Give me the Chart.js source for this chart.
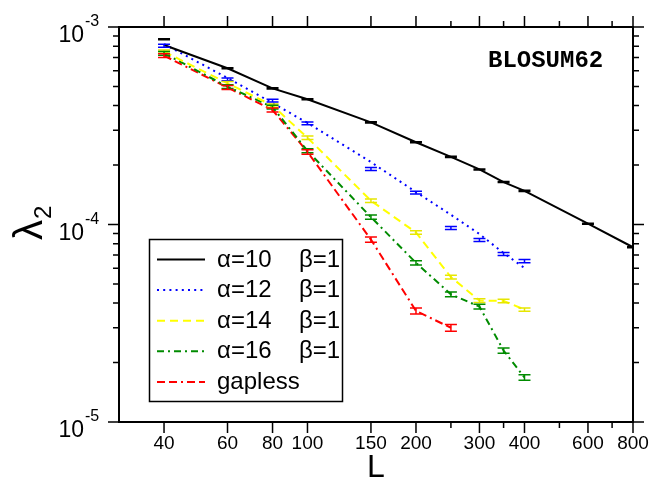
<!DOCTYPE html>
<html>
<head>
<meta charset="utf-8">
<script src="https://cdn.jsdelivr.net/npm/chart.js@4.4.0/dist/chart.umd.min.js"></script>
<style>
  html, body { margin: 0; padding: 0; background: #fff; }
  #wrap { width: 652px; height: 487px; }
</style>
</head>
<body>
<div id="wrap"><canvas id="chart" width="652" height="487"></canvas></div>
<script>
  // system sizes L
  const sizesA10 = [40, 60, 80, 100, 150, 200, 250, 300, 350, 400, 600, 800];
  const sizes = [40, 60, 80, 100, 150, 200, 250, 300, 350, 400];
  const sizesGapless = [40, 60, 80, 100, 150, 200, 250];

  // alpha=10, beta=1
  const lineA10 = [8.11e-4, 6.18e-4, 4.89e-4, 4.31e-4, 3.29e-4, 2.61e-4, 2.20e-4, 1.90e-4, 1.64e-4, 1.48e-4, 1.01e-4, 7.67e-5];
  const meanA10 = [8.66e-4, 6.18e-4, 4.89e-4, 4.31e-4, 3.29e-4, 2.61e-4, 2.20e-4, 1.90e-4, 1.64e-4, 1.48e-4, 1.01e-4, 7.67e-5];
  const errA10 = [5e-6, 4e-6, 3e-6, 2.5e-6, 2e-6, 1.5e-6, 1.3e-6, 1.1e-6, 1e-6, 0.9e-6, 0.6e-6, 0.5e-6];

  // alpha=12, beta=1
  const lineA12 = [8.20e-4, 5.52e-4, 4.12e-4, 3.27e-4, 2.07e-4, 1.46e-4, 1.12e-4, 8.95e-5, 7.17e-5, 6.02e-5];
  const meanA12 = [8.04e-4, 5.43e-4, 4.24e-4, 3.25e-4, 1.91e-4, 1.45e-4, 9.60e-5, 8.35e-5, 7.09e-5, 6.53e-5];
  const errA12 = [1.4e-5, 9e-6, 7e-6, 5.5e-6, 3.3e-6, 2.5e-6, 1.7e-6, 1.5e-6, 1.3e-6, 1.2e-6];

  // alpha=14, beta=1
  const meanA14 = [7.50e-4, 5.19e-4, 4.00e-4, 2.75e-4, 1.32e-4, 9.11e-5, 5.42e-5, 4.12e-5, 4.10e-5, 3.71e-5];
  const errA14 = [1.4e-5, 1.0e-5, 7.5e-6, 5.5e-6, 2.7e-6, 1.9e-6, 1.2e-6, 0.9e-6, 0.8e-6, 0.7e-6];

  // alpha=16, beta=1
  const meanA16 = [7.36e-4, 4.99e-4, 3.93e-4, 2.36e-4, 1.09e-4, 6.40e-5, 4.43e-5, 3.84e-5, 2.30e-5, 1.68e-5];
  const errA16 = [1.6e-5, 1.1e-5, 8.5e-6, 5.5e-6, 2.7e-6, 1.6e-6, 1.2e-6, 1.1e-6, 0.7e-6, 0.55e-6];

  // gapless
  const meanGapless = [7.16e-4, 4.94e-4, 3.80e-4, 2.33e-4, 8.39e-5, 3.65e-5, 3.00e-5];
  const errGapless = [1.6e-5, 1.1e-5, 8.5e-6, 6e-6, 2.6e-6, 1.3e-6, 1.2e-6];

  const legendAlpha = ["\u03b1=10", "\u03b1=12", "\u03b1=14", "\u03b1=16", "gapless"];
  const legendBeta = ["\u03b2=1", "\u03b2=1", "\u03b2=1", "\u03b2=1", ""];

  // axis ticks
  const xMajorTicks = [40, 60, 80, 100, 150, 200, 300, 400, 600, 800];
  const xMinorTicks = [250, 350, 500, 700];
  const yMajorTicks = [1e-5, 1e-4, 1e-3];
  const yMinorTicks = [2e-5, 3e-5, 4e-5, 5e-5, 6e-5, 7e-5, 8e-5, 9e-5,
                       2e-4, 3e-4, 4e-4, 5e-4, 6e-4, 7e-4, 8e-4, 9e-4];

  const FONT = '"Liberation Sans", Arial, Helvetica, sans-serif';

  function pts(xs, ys) {
    return xs.map(function (x, i) { return { x: x, y: ys[i] }; });
  }

  function lineSet(label, xs, ys, color, dash) {
    return {
      label: label,
      data: pts(xs, ys),
      showLine: true,
      borderColor: color,
      backgroundColor: color,
      borderWidth: 2,
      borderDash: dash,
      pointRadius: 0,
      tension: 0
    };
  }

  const datasets = [
    lineSet(legendAlpha[0], sizesA10, lineA10, "#000000", []),
    lineSet(legendAlpha[1], sizes, lineA12, "#0000ff", [2, 4.2]),
    lineSet(legendAlpha[2], sizes, meanA14, "#ffff00", [8, 5]),
    lineSet(legendAlpha[3], sizes, meanA16, "#008b00", [7, 4, 2, 4]),
    lineSet(legendAlpha[4], sizesGapless, meanGapless, "#ff0000", [8, 4, 8, 4, 2, 4])
  ];

  const errorSeries = [
    { x: sizesA10, y: meanA10, err: errA10, color: "#000000" },
    { x: sizes, y: meanA12, err: errA12, color: "#0000ff" },
    { x: sizes, y: meanA14, err: errA14, color: "#e6e600" },
    { x: sizes, y: meanA16, err: errA16, color: "#008b00" },
    { x: sizesGapless, y: meanGapless, err: errGapless, color: "#ff0000" }
  ];

  function seg(ctx, x1, y1, x2, y2) {
    ctx.moveTo(x1, y1);
    ctx.lineTo(x2, y2);
  }

  const decor = {
    id: "decor",
    afterDatasetsDraw: function (chart) {
      const ctx = chart.ctx, a = chart.chartArea;
      const xs = chart.scales.x, ys = chart.scales.y;
      ctx.save();
      ctx.beginPath();
      ctx.rect(a.left, a.top, a.right - a.left, a.bottom - a.top);
      ctx.clip();
      ctx.setLineDash([]);
      ctx.lineWidth = 1.5;
      errorSeries.forEach(function (s) {
        ctx.strokeStyle = s.color;
        s.x.forEach(function (L, i) {
          const px = xs.getPixelForValue(L);
          const top = ys.getPixelForValue(s.y[i] + s.err[i]);
          const bot = ys.getPixelForValue(s.y[i] - s.err[i]);
          ctx.beginPath();
          seg(ctx, px - 6, top, px + 6, top);
          seg(ctx, px - 6, bot, px + 6, bot);
          seg(ctx, px, top, px, bot);
          ctx.stroke();
        });
      });
      ctx.restore();
    },
    afterDraw: function (chart) {
      const ctx = chart.ctx, a = chart.chartArea;
      const xs = chart.scales.x, ys = chart.scales.y;
      ctx.save();
      ctx.setLineDash([]);
      ctx.strokeStyle = "#000";
      ctx.fillStyle = "#000";

      // frame
      ctx.lineWidth = 2;
      ctx.strokeRect(a.left, a.top, a.right - a.left, a.bottom - a.top);

      // tick marks on all four sides, pointing outward
      ctx.lineWidth = 1.5;
      ctx.beginPath();
      xMajorTicks.forEach(function (v) {
        const px = xs.getPixelForValue(v);
        seg(ctx, px, a.bottom, px, a.bottom + 11);
        seg(ctx, px, a.top, px, a.top - 11);
      });
      xMinorTicks.forEach(function (v) {
        const px = xs.getPixelForValue(v);
        seg(ctx, px, a.bottom, px, a.bottom + 6);
        seg(ctx, px, a.top, px, a.top - 6);
      });
      yMajorTicks.forEach(function (v) {
        const py = ys.getPixelForValue(v);
        seg(ctx, a.left, py, a.left - 11, py);
        seg(ctx, a.right, py, a.right + 11, py);
      });
      yMinorTicks.forEach(function (v) {
        const py = ys.getPixelForValue(v);
        seg(ctx, a.left, py, a.left - 6, py);
        seg(ctx, a.right, py, a.right + 6, py);
      });
      ctx.stroke();

      // y tick labels 10^n
      yMajorTicks.forEach(function (v) {
        const py = ys.getPixelForValue(v);
        ctx.textBaseline = "alphabetic";
        ctx.textAlign = "right";
        ctx.font = "23px " + FONT;
        ctx.fillText("10", 84, py + 15);
        ctx.textAlign = "left";
        ctx.font = "16px " + FONT;
        ctx.fillText(String(Math.round(Math.log10(v))), 85, py - 1);
      });

      // y axis title lambda_2
      ctx.save();
      ctx.translate(42, 240);
      ctx.rotate(-Math.PI / 2);
      ctx.textAlign = "left";
      ctx.textBaseline = "alphabetic";
      ctx.font = "40px " + FONT;
      ctx.fillText("\u03bb", 0, 0);
      const lw = ctx.measureText("\u03bb").width;
      ctx.font = "24px " + FONT;
      ctx.fillText("2", lw + 1, 9);
      ctx.restore();

      // matrix name
      ctx.textAlign = "left";
      ctx.textBaseline = "alphabetic";
      ctx.font = 'bold 24px "Liberation Mono", "Courier New", monospace';
      ctx.fillText("BLOSUM62", 488, 67);

      // legend
      const bx = 149.5, by = 239.5, bw = 193, bh = 162;
      ctx.fillStyle = "#fff";
      ctx.fillRect(bx, by, bw, bh);
      ctx.lineWidth = 1.5;
      ctx.strokeStyle = "#000";
      ctx.strokeRect(bx, by, bw, bh);
      chart.data.datasets.forEach(function (ds, i) {
        const ly = 259.5 + i * 30.6;
        ctx.save();
        ctx.strokeStyle = ds.borderColor;
        ctx.lineWidth = 2;
        ctx.setLineDash(ds.borderDash);
        ctx.beginPath();
        seg(ctx, 157, ly, 205, ly);
        ctx.stroke();
        ctx.restore();
        ctx.fillStyle = "#000";
        ctx.font = "24px " + FONT;
        ctx.textAlign = "left";
        ctx.textBaseline = "alphabetic";
        ctx.fillText(legendAlpha[i], 217, ly + 7);
        if (legendBeta[i]) ctx.fillText(legendBeta[i], 299, ly + 7);
      });
      ctx.restore();
    }
  };

  new Chart(document.getElementById("chart"), {
    type: "scatter",
    data: { datasets: datasets },
    plugins: [decor],
    options: {
      responsive: false,
      animation: false,
      layout: { padding: { left: 0, top: 27, right: 19, bottom: 0 } },
      plugins: { legend: { display: false }, tooltip: { enabled: false } },
      scales: {
        x: {
          type: "logarithmic",
          min: 30,
          max: 800,
          afterBuildTicks: function (s) {
            s.ticks = xMajorTicks.concat(xMinorTicks)
              .sort(function (p, q) { return p - q; })
              .map(function (v) { return { value: v }; });
          },
          afterFit: function (s) {
            s.height = 65;
            s.paddingLeft = 0;
            s.paddingRight = 0;
          },
          ticks: {
            autoSkip: false,
            maxRotation: 0,
            padding: 10,
            color: "#000",
            font: { family: FONT, size: 19 },
            callback: function (v) { return xMajorTicks.indexOf(v) >= 0 ? String(v) : ""; }
          },
          grid: { display: false, drawTicks: false },
          border: { display: false },
          title: {
            display: true,
            text: "L",
            color: "#000",
            font: { family: FONT, size: 32 },
            padding: { top: 0, bottom: 0 }
          }
        },
        y: {
          type: "logarithmic",
          min: 1e-5,
          max: 1e-3,
          afterFit: function (s) { s.width = 119; },
          ticks: { display: false },
          grid: { display: false, drawTicks: false },
          border: { display: false }
        }
      }
    }
  });
</script>
</body>
</html>
